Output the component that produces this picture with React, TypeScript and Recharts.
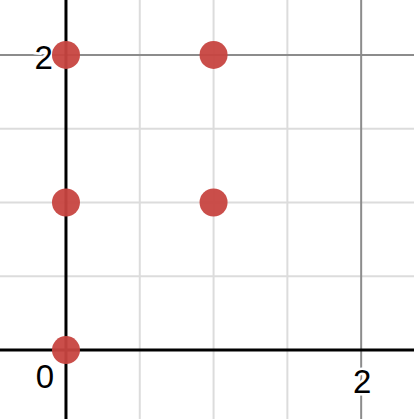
import {
  ScatterChart,
  Scatter,
  XAxis,
  YAxis,
  CartesianGrid,
  ReferenceLine,
} from 'recharts'

// plotted points
const pointX = [0, 1, 0, 1, 0]
const pointY = [2, 2, 1, 1, 0]

// visible window of the graph
const xDomain = [-0.447, 2.358]
const yDomain = [-0.467, 2.372]

// grid lines
const minorGrid = [0.5, 1, 1.5]
const majorGrid = [2]

// axis number labels
const labelText = ['0', '2', '2']
const labelX = [0, 2, 0]
const labelY = [0, 0, 2]
const labelKind = ['origin', 'x', 'y']

const points = pointX.map((x, i) => ({ x, y: pointY[i] }))
const labels = labelText.map((text, i) => ({
  x: labelX[i],
  y: labelY[i],
  text,
  kind: labelKind[i],
}))

const RED = '#c74440'

const Dot = (props: any) => {
  const { cx, cy } = props
  return <circle cx={cx} cy={cy} r={14} fill={RED} fillOpacity={0.95} />
}

const Label = (props: any) => {
  const { cx, cy, payload } = props
  let dx = 0
  let dy = 0
  let anchor = 'middle'
  if (payload.kind === 'origin') {
    dx = -21
    dy = 38
  } else if (payload.kind === 'x') {
    dx = 1
    dy = 43
  } else {
    dx = -13
    dy = 14
    anchor = 'end'
  }
  return (
    <text
      x={cx + dx}
      y={cy + dy}
      textAnchor={anchor}
      fontFamily="'Liberation Sans', Arial, sans-serif"
      fontSize={33}
      fill="#000"
      stroke="#fff"
      strokeWidth={5}
      paintOrder="stroke"
    >
      {payload.text}
    </text>
  )
}

export default function App() {
  return (
    <div style={{ position: 'absolute', left: 0, top: 0, background: '#fff' }}>
      <ScatterChart
        width={414}
        height={419}
        margin={{ top: 0, right: 0, bottom: 0, left: 0 }}
      >
        <XAxis
          type="number"
          dataKey="x"
          domain={xDomain}
          allowDataOverflow
          hide
        />
        <YAxis
          type="number"
          dataKey="y"
          domain={yDomain}
          allowDataOverflow
          hide
        />
        <CartesianGrid
          stroke="#dcdcdc"
          strokeWidth={2}
          verticalValues={minorGrid}
          horizontalValues={minorGrid}
        />
        <CartesianGrid
          stroke="#8c8c8c"
          strokeWidth={2}
          verticalValues={majorGrid}
          horizontalValues={majorGrid}
        />
        <ReferenceLine x={0} stroke="#000" strokeWidth={3} />
        <ReferenceLine y={0} stroke="#000" strokeWidth={3} />
        <Scatter
          data={labels}
          shape={Label}
          isAnimationActive={false}
        />
        <Scatter
          data={points}
          shape={Dot}
          isAnimationActive={false}
        />
      </ScatterChart>
    </div>
  )
}
